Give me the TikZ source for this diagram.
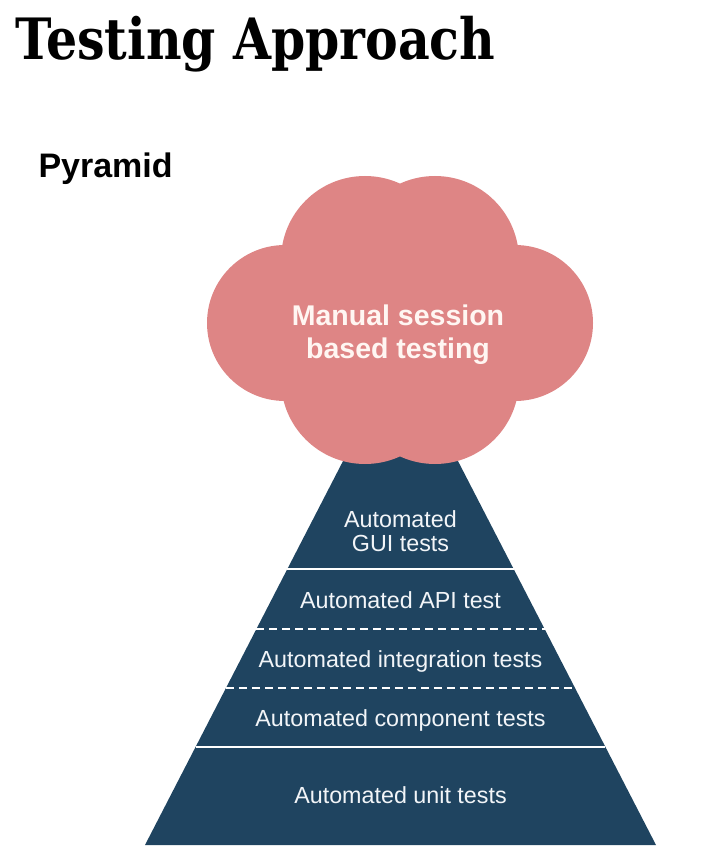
\documentclass[tikz,border=0pt]{standalone}
\usepackage{fontspec}
\setmainfont{Liberation Sans}
\newfontfamily\slabfont{DejaVu Serif}
\usetikzlibrary{calc}
\definecolor{cloudpink}{HTML}{DE8585}
\definecolor{cloudtext}{HTML}{FFF6F2}
\definecolor{pyrnavy}{HTML}{1F4460}
\definecolor{lblwhite}{HTML}{F2F5F8}
\tikzset{
  layer/.style={font=\fontsize{23.3}{24.6}\selectfont, text=lblwhite, align=center, anchor=base},
  divider/.style={draw=white, line width=2pt},
  solidline/.style={},
  dashline/.style={dash pattern=on 8pt off 5pt},
  lobe/.style={fill=cloudpink}
}
\begin{document}
\begin{tikzpicture}[x=1pt,y=-1pt]
  \useasboundingbox (0,0) rectangle (706,866);
  \node[anchor=base west, font=\slabfont\bfseries\fontsize{57}{57}\selectfont, xscale=0.86, transform shape, inner sep=0pt] (title) at (15,60) {Testing Approach};
  \node[anchor=base west, font=\bfseries\fontsize{34}{34}\selectfont] (pyramid) at (35,178) {Pyramid};
  \coordinate (apex) at (400.5,349.6);
  \coordinate (bl) at (145,845);
  \coordinate (br) at (656,845);
  \fill[pyrnavy] (apex) -- (bl) -- (br) -- cycle;
  \foreach \t/\kind in {0.4429/solidline, 0.5640/dashline, 0.6831/dashline, 0.8022/solidline}
    \draw[divider, \kind] ($(apex)!\t!(bl)$) -- ($(apex)!\t!(br)$);
  \foreach \cx/\cy/\r in {365/260/84, 435/260/84, 285/323/78, 515/323/78, 365/380/84, 435/380/84}
    \fill[lobe] (\cx,\cy) circle[radius=\r];
  \fill[lobe] (285,260) rectangle (515,380);
  \node[font=\bfseries\fontsize{28.5}{33}\selectfont, text=cloudtext, align=center, anchor=base] (manual) at (398,358.3) {Manual session\\based testing};
  \node[layer] (gui) at (400.5,551.7) {Automated\\GUI tests};
  \node[layer] (api) at (400.5,608.3) {Automated API test};
  \node[layer] (integration) at (400.5,667.7) {Automated integration tests};
  \node[layer] (component) at (400.5,726.7) {Automated component tests};
  \node[layer] (unit) at (400.5,803.3) {Automated unit tests};
\end{tikzpicture}
\end{document}
